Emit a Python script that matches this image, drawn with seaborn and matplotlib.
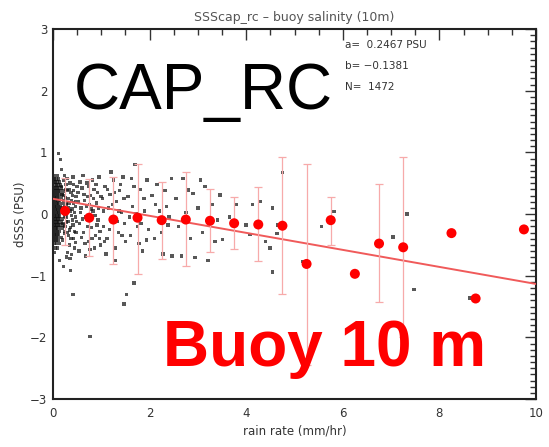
import numpy as np
import pandas as pd
import matplotlib
matplotlib.use("Agg")
import matplotlib.pyplot as plt
from matplotlib.ticker import MultipleLocator
import seaborn as sns

# ---------------- data ----------------
title = "SSScap_rc \u2013 buoy salinity (10m)"
fit_a = 0.2467
fit_b = -0.1381
n_obs = 1472

# dense band of points at very low rain rate: (y, [x values])
band_rows = [
    (0.62, [0.03, 0.09]),
    (0.57, [0.02, 0.06, 0.12]),
    (0.52, [0.01, 0.05, 0.08, 0.14]),
    (0.47, [0.03, 0.07, 0.10, 0.16]),
    (0.42, [0.02, 0.05, 0.09, 0.12, 0.18]),
    (0.37, [0.01, 0.04, 0.08, 0.11, 0.15, 0.23]),
    (0.32, [0.03, 0.06, 0.09, 0.13, 0.20]),
    (0.27, [0.02, 0.05, 0.08, 0.12, 0.17, 0.26]),
    (0.22, [0.01, 0.04, 0.07, 0.10, 0.14, 0.22]),
    (0.17, [0.03, 0.06, 0.09, 0.12, 0.19, 0.27]),
    (0.12, [0.02, 0.05, 0.08, 0.11, 0.15, 0.24]),
    (0.07, [0.01, 0.04, 0.07, 0.10, 0.13, 0.18, 0.29]),
    (0.02, [0.03, 0.06, 0.09, 0.12, 0.16, 0.21]),
    (-0.03, [0.02, 0.05, 0.08, 0.11, 0.14, 0.25]),
    (-0.08, [0.01, 0.04, 0.07, 0.10, 0.13, 0.20]),
    (-0.13, [0.03, 0.06, 0.09, 0.12, 0.17, 0.28]),
    (-0.18, [0.02, 0.05, 0.08, 0.11, 0.15, 0.22]),
    (-0.23, [0.01, 0.04, 0.07, 0.10, 0.19]),
    (-0.28, [0.03, 0.06, 0.09, 0.13, 0.24]),
    (-0.33, [0.02, 0.05, 0.08, 0.12]),
    (-0.38, [0.01, 0.04, 0.07, 0.11, 0.18]),
    (-0.43, [0.03, 0.06, 0.10]),
    (-0.48, [0.02, 0.07, 0.14]),
    (-0.55, [0.04, 0.09]),
    (-0.62, [0.02]),
]

# scattered individual points (rain rate, dSSS)
scatter_pts = [
    (0.18, 0.45), (0.22, 0.30), (0.25, -0.20), (0.28, 0.15), (0.30, 0.38), (0.32, -0.35),
    (0.35, 0.05), (0.38, 0.22), (0.40, -0.10), (0.42, 0.48), (0.45, -0.28), (0.47, 0.12),
    (0.20, -0.42), (0.23, 0.55), (0.27, -0.05), (0.31, 0.25), (0.34, -0.50), (0.37, 0.35),
    (0.41, -0.18), (0.44, 0.02), (0.48, 0.28), (0.19, 0.10), (0.26, 0.40), (0.29, -0.30),
    (0.33, 0.18), (0.36, -0.22), (0.39, 0.08), (0.43, -0.40), (0.46, 0.20), (0.49, -0.12),
    (0.21, -0.15), (0.24, 0.62), (0.30, -0.62), (0.35, 0.50), (0.40, 0.30), (0.45, -0.55),
    (0.17, 0.72), (0.28, -0.70), (0.38, -0.66), (0.12, 0.98), (0.16, 0.88), (0.14, -0.75),
    (0.22, -0.85), (0.36, -0.92),
    (0.19, 0.32), (0.24, -0.32), (0.27, 0.48), (0.31, -0.12), (0.33, 0.40), (0.37, -0.40),
    (0.42, 0.18), (0.46, -0.05), (0.50, 0.45), (0.26, 0.05), (0.32, 0.10), (0.38, -0.02),
    (0.43, 0.38), (0.48, -0.30), (0.29, 0.58), (0.34, -0.26), (0.41, 0.60), (0.47, -0.46),
    (0.52, 0.35), (0.55, -0.15), (0.58, 0.10), (0.60, 0.42), (0.63, -0.30), (0.65, 0.22),
    (0.68, -0.05), (0.70, 0.50), (0.73, -0.45), (0.75, 0.15), (0.78, 0.30), (0.80, -0.22),
    (0.83, 0.05), (0.85, 0.40), (0.88, -0.35), (0.90, 0.18), (0.93, -0.10), (0.95, 0.60),
    (0.98, -0.50), (0.54, -0.60), (0.62, 0.62), (0.67, -0.68), (0.72, 0.28), (0.77, -0.58),
    (0.82, 0.55), (0.87, -0.02), (0.92, 0.35), (0.97, -0.28), (0.57, 0.02), (0.69, 0.12),
    (0.53, 0.20), (0.56, 0.52), (0.59, -0.38), (0.61, -0.08), (0.64, 0.32), (0.66, -0.48),
    (0.71, -0.20), (0.74, 0.45), (0.76, -0.10), (0.79, 0.08), (0.81, -0.40), (0.84, 0.25),
    (0.86, -0.55), (0.89, 0.48), (0.91, -0.18), (0.94, 0.10), (0.96, -0.40), (0.99, 0.28),
    (1.02, 0.25), (1.05, -0.20), (1.08, 0.45), (1.12, -0.40), (1.15, 0.10), (1.18, 0.32),
    (1.22, -0.08), (1.25, 0.55), (1.28, -0.55), (1.32, 0.20), (1.35, -0.30), (1.38, 0.38),
    (1.42, 0.02), (1.45, 0.60), (1.48, -0.15), (1.10, -0.65), (1.20, 0.68), (1.30, -0.75),
    (1.40, 0.48), (1.50, -0.45),
    (1.04, 0.05), (1.07, -0.45), (1.13, 0.40), (1.17, -0.25), (1.23, 0.15), (1.27, 0.35),
    (1.33, -0.12), (1.37, 0.05), (1.43, -0.35), (1.47, 0.25),
    (1.55, 0.28), (1.60, -0.35), (1.65, 0.12), (1.70, 0.80), (1.75, -0.20), (1.80, 0.40),
    (1.85, -0.60), (1.90, 0.05), (1.95, 0.55), (1.58, -0.05), (1.68, 0.45), (1.78, -0.48),
    (1.88, 0.25), (1.98, -0.25), (1.62, 0.58), (1.72, 0.00), (1.82, -0.15), (1.93, -0.42),
    (2.05, 0.30), (2.10, -0.40), (2.15, 0.48), (2.20, 0.05), (2.28, -0.65), (2.32, 0.38),
    (2.38, -0.18), (2.45, 0.58), (2.12, 0.15), (2.40, -0.05), (2.25, -0.30), (2.35, 0.12),
    (2.55, 0.25), (2.66, -0.68), (2.69, 0.58), (2.80, 0.39), (2.90, 0.33), (2.94, -0.71),
    (3.00, 0.10), (3.10, -0.30), (3.21, -0.75), (3.30, 0.15), (3.40, -0.10), (2.46, -0.68),
    (2.75, 0.02), (3.15, 0.45), (2.60, -0.20), (2.85, -0.40), (3.05, 0.55), (3.35, -0.45),
    (3.46, 0.31), (3.51, -0.41), (3.80, 0.15), (4.13, 0.15), (4.00, -0.18), (4.08, -0.33),
    (4.29, 0.20), (4.49, -0.55), (4.55, 0.10), (4.55, -0.94), (4.64, -0.32), (4.66, -0.18),
    (4.75, 0.67), (3.65, -0.05), (4.40, -0.45),
    (5.18, -0.77), (5.56, -0.20), (5.82, 0.04), (7.04, -0.37), (7.33, 0.00), (7.47, -1.22),
    (8.63, -1.36),
    (0.41, -1.31), (1.52, -1.31), (1.47, -1.46), (1.68, -1.12), (0.77, -1.99), (0.35, -0.72),
]

# binned means with error-bar ends (NaN = no bar drawn)
bin_center = [0.25, 0.75, 1.25, 1.75, 2.25, 2.75, 3.25, 3.75, 4.25, 4.75,
              5.25, 5.75, 6.25, 6.75, 7.25, 8.25, 8.75, 9.75]
bin_mean = [0.05, -0.06, -0.09, -0.06, -0.10, -0.09, -0.11, -0.15, -0.17, -0.19,
            -0.81, -0.10, -0.97, -0.48, -0.54, -0.31, -1.37, -0.25]
bar_top = [0.59, 0.56, 0.60, 0.81, 0.52, 0.68, 0.40, 0.27, 0.44, 0.92,
           0.81, 0.27, np.nan, 0.48, 0.92, np.nan, np.nan, np.nan]
bar_bottom = [-0.50, -0.68, -0.81, -0.97, -0.73, -0.85, -0.62, -0.57, -0.77, -1.30,
              -2.45, -0.50, np.nan, -1.42, -2.00, np.nan, np.nan, np.nan]

fit_x = [0.0, 10.0]

# ---------------- build tables ----------------
pts = [(x, y) for y, xs in band_rows for x in xs] + scatter_pts
df_pts = pd.DataFrame(pts, columns=["rain", "dsss"])
df_bins = pd.DataFrame({"x": bin_center, "mean": bin_mean,
                        "top": bar_top, "bottom": bar_bottom})
df_fit = pd.DataFrame({"x": fit_x})
df_fit["y"] = fit_a + fit_b * df_fit["x"]

# ---------------- figure ----------------
sns.set_theme(style="white")
plt.rcParams["font.family"] = ["DejaVu Sans"]

W, H = 549, 447
fig = plt.figure(figsize=(W / 100, H / 100), dpi=100)
L, R, T, B = 53, 536, 29, 399
ax = fig.add_axes([L / W, 1 - B / H, (R - L) / W, (B - T) / H])

sns.scatterplot(data=df_pts, x="rain", y="dsss", ax=ax, s=6, marker="s",
                color="#111111", alpha=0.7, edgecolor="none", linewidth=0, zorder=2)

sns.lineplot(data=df_fit, x="x", y="y", ax=ax, color="#f05a5a", lw=1.4, zorder=3)

eb = df_bins.dropna()
ax.errorbar(eb["x"], eb["mean"],
            yerr=[eb["mean"] - eb["bottom"], eb["top"] - eb["mean"]],
            fmt="none", ecolor="#f7aaaa", elinewidth=0.9, capsize=2.6,
            capthick=0.9, zorder=3)

sns.scatterplot(data=df_bins, x="x", y="mean", ax=ax, s=52, color="#ff0000",
                edgecolor="none", linewidth=0, zorder=4)

ax.set_xlim(0, 10)
ax.set_ylim(-3, 3)
ax.xaxis.set_major_locator(MultipleLocator(2))
ax.xaxis.set_minor_locator(MultipleLocator(0.5))
ax.yaxis.set_major_locator(MultipleLocator(1))
ax.yaxis.set_minor_locator(MultipleLocator(0.1))
ax.tick_params(which="both", direction="in", top=True, right=True,
               color="#333333", width=1.0, labelsize=8.5, labelcolor="#333333")
ax.tick_params(which="major", length=8)
ax.tick_params(which="minor", length=4)
ax.tick_params(axis="x", pad=6)
ax.tick_params(axis="y", pad=4)
for sp in ax.spines.values():
    sp.set_visible(True)
    sp.set_color("#222222")
    sp.set_linewidth(1.5)

ax.set_xlabel("rain rate (mm/hr)", fontsize=8.5, color="#333333", labelpad=3)
ax.set_ylabel("dSSS (PSU)", fontsize=8.5, color="#333333", labelpad=2)
ax.set_title(title, fontsize=9, color="#555555", pad=6)

# stats block
stats = [f"a=  {fit_a:.4f} PSU", f"b= {fit_b:.4f}".replace("-", "\u2212"), f"N=  {n_obs}"]
for i, s in enumerate(stats):
    fig.text(345 / W, 1 - (45 + 21 * i) / H, s, fontsize=7.5, color="#333333",
             ha="left", va="center")

fig.text(74 / W, 1 - 109 / H, "CAP_RC", fontsize=46, color="black",
         family=["Liberation Sans", "DejaVu Sans"], ha="left", va="baseline")
fig.text(163 / W, 1 - 366 / H, "Buoy 10 m", fontsize=46, color="#ff0000",
         fontweight="bold", family=["Liberation Sans", "DejaVu Sans"],
         ha="left", va="baseline")

fig.savefig("out.png", dpi=100)
